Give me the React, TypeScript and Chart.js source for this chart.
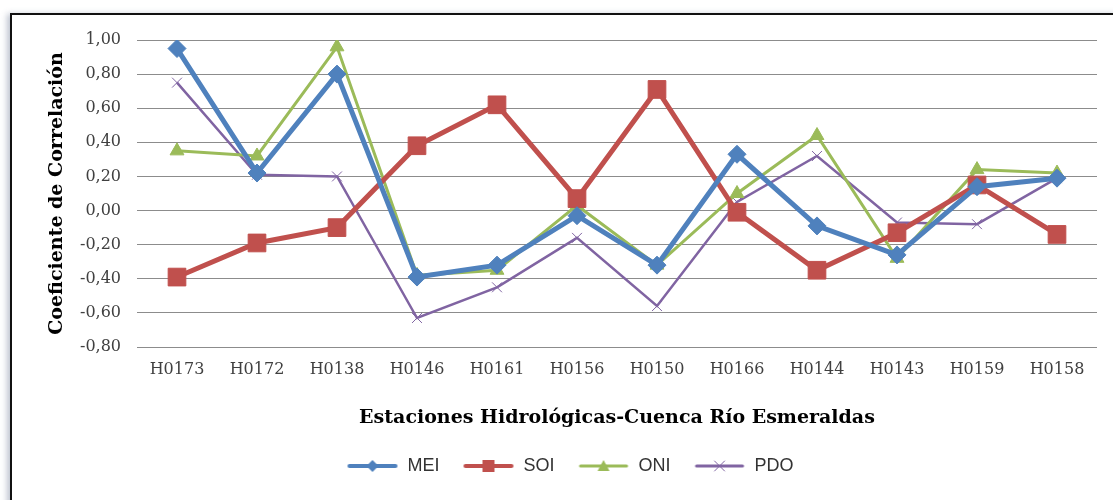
import React, { useEffect, useRef } from "react";
import { Chart, registerables } from "chart.js";

Chart.register(...registerables);

const categories = ["H0173", "H0172", "H0138", "H0146", "H0161", "H0156", "H0150", "H0166", "H0144", "H0143", "H0159", "H0158"];
const meiValues = [0.95, 0.22, 0.8, -0.39, -0.32, -0.03, -0.32, 0.33, -0.09, -0.26, 0.14, 0.19];
const soiValues = [-0.39, -0.19, -0.1, 0.38, 0.62, 0.07, 0.71, -0.01, -0.35, -0.13, 0.15, -0.14];
const oniValues = [0.35, 0.32, 0.96, -0.38, -0.35, 0.03, -0.32, 0.1, 0.44, -0.28, 0.24, 0.22];
const pdoValues = [0.75, 0.21, 0.2, -0.63, -0.45, -0.16, -0.56, 0.05, 0.32, -0.07, -0.08, 0.19];
const seriesNames = ["MEI", "SOI", "ONI", "PDO"];
const yMin = -0.8;
const yMax = 1.0;
const yStep = 0.2;
const xTitle = "Estaciones Hidrológicas-Cuenca Río Esmeraldas";
const yTitle = "Coeficiente de Correlación";

const COLORS = ["#4F81BD", "#C0504D", "#9BBB59", "#8064A2"];

function makeIcon(color: string, lineWidth: number, marker: string): HTMLCanvasElement {
  const c = document.createElement("canvas");
  c.width = 52;
  c.height = 20;
  const ctx = c.getContext("2d")!;
  ctx.strokeStyle = color;
  ctx.fillStyle = color;
  ctx.lineWidth = lineWidth;
  ctx.lineCap = "round";
  ctx.beginPath();
  ctx.moveTo(3, 10);
  ctx.lineTo(49, 10);
  ctx.stroke();
  const cx = 26, cy = 10;
  ctx.beginPath();
  if (marker === "diamond") {
    ctx.moveTo(cx, cy - 6);
    ctx.lineTo(cx + 6, cy);
    ctx.lineTo(cx, cy + 6);
    ctx.lineTo(cx - 6, cy);
    ctx.closePath();
    ctx.fill();
  } else if (marker === "square") {
    ctx.rect(cx - 6, cy - 6, 12, 12);
    ctx.fill();
  } else if (marker === "triangle") {
    ctx.moveTo(cx, cy - 6);
    ctx.lineTo(cx + 6, cy + 5);
    ctx.lineTo(cx - 6, cy + 5);
    ctx.closePath();
    ctx.fill();
  } else {
    ctx.lineWidth = 1;
    ctx.moveTo(cx - 5, cy - 5);
    ctx.lineTo(cx + 5, cy + 5);
    ctx.moveTo(cx + 5, cy - 5);
    ctx.lineTo(cx - 5, cy + 5);
    ctx.stroke();
  }
  return c;
}

function fmt(v: number): string {
  const n = Math.abs(v) < 1e-9 ? 0 : v;
  return n.toFixed(2).replace(".", ",");
}

export default function App() {
  const ref = useRef<HTMLCanvasElement | null>(null);

  useEffect(() => {
    if (!ref.current) return;
    const icons = [
      makeIcon(COLORS[0], 4, "diamond"),
      makeIcon(COLORS[1], 4, "square"),
      makeIcon(COLORS[2], 3, "triangle"),
      makeIcon(COLORS[3], 3, "cross"),
    ];
    const serif = "'DejaVu Serif', serif";
    const chart = new Chart(ref.current, {
      type: "line",
      data: {
        labels: categories,
        datasets: [
          {
            label: seriesNames[0],
            data: meiValues,
            borderColor: COLORS[0],
            backgroundColor: COLORS[0],
            borderWidth: 5,
            pointStyle: "rectRot",
            pointRadius: 9,
            pointBorderWidth: 1,
            pointBackgroundColor: COLORS[0],
            pointBorderColor: COLORS[0],
            tension: 0,
          },
          {
            label: seriesNames[1],
            data: soiValues,
            borderColor: COLORS[1],
            backgroundColor: COLORS[1],
            borderWidth: 5,
            pointStyle: "rect",
            pointRadius: 12.5,
            pointBorderWidth: 1,
            pointBackgroundColor: COLORS[1],
            pointBorderColor: COLORS[1],
            tension: 0,
          },
          {
            label: seriesNames[2],
            data: oniValues,
            borderColor: COLORS[2],
            backgroundColor: COLORS[2],
            borderWidth: 3,
            pointStyle: "triangle",
            pointRadius: 8,
            pointBorderWidth: 1,
            pointBackgroundColor: COLORS[2],
            pointBorderColor: COLORS[2],
            tension: 0,
          },
          {
            label: seriesNames[3],
            data: pdoValues,
            borderColor: COLORS[3],
            backgroundColor: COLORS[3],
            borderWidth: 2.5,
            pointStyle: "crossRot",
            pointRadius: 7,
            pointBorderWidth: 1,
            pointBackgroundColor: COLORS[3],
            pointBorderColor: COLORS[3],
            tension: 0,
          },
        ],
      },
      options: {
        responsive: false,
        animation: false,
        layout: { padding: { left: 43, right: 16, top: 40, bottom: 15 } },
        scales: {
          x: {
            type: "category",
            offset: true,
            grid: { display: false, drawTicks: false },
            border: { display: false },
            ticks: {
              padding: 13,
              autoSkip: false,
              maxRotation: 0,
              color: "#404040",
              font: { family: serif, size: 16 },
            },
            title: {
              display: true,
              text: xTitle,
              color: "#000",
              font: { family: serif, size: 19, weight: "bold" },
              padding: { top: 0, bottom: 5 },
            },
            afterFit: (s: any) => {
              s.height = 87;
            },
          },
          y: {
            min: yMin,
            max: yMax,
            grid: { color: "#8c8c8c", lineWidth: 1, drawTicks: false },
            border: { display: false },
            ticks: {
              stepSize: yStep,
              padding: 16,
              color: "#404040",
              font: { family: serif, size: 16 },
              callback: (v: any) => fmt(Number(v)),
            },
            title: {
              display: true,
              text: yTitle,
              color: "#000",
              font: { family: serif, size: 19, weight: "bold" },
              padding: { top: 3, bottom: 0 },
            },
            afterFit: (s: any) => {
              s.width = 94;
            },
          },
        },
        plugins: {
          tooltip: { enabled: false },
          legend: {
            display: true,
            position: "bottom",
            labels: {
              usePointStyle: true,
              pointStyleWidth: 52,
              padding: 23,
              color: "#333",
              font: { family: "'Liberation Sans', Arial, sans-serif", size: 18 },
              generateLabels: (ch: any) => {
                const base = Chart.defaults.plugins.legend.labels.generateLabels(ch);
                return base.map((it: any, i: number) => ({ ...it, pointStyle: icons[i] }));
              },
            },
          },
        },
      },
    } as any);
    return () => chart.destroy();
  }, []);

  return (
    <div style={{ position: "absolute", left: 0, top: 0, width: 1113, height: 500, overflow: "hidden", background: "#fff" }}>
      <canvas ref={ref} width={1113} height={500} style={{ position: "absolute", left: 0, top: 0 }} />
      <div
        style={{
          position: "absolute",
          left: 10,
          top: 13,
          width: 1300,
          height: 700,
          borderLeft: "2px solid #111",
          borderTop: "2px solid #111",
          boxShadow: "-3px 1px 6px rgba(110,125,150,0.45)",
          pointerEvents: "none",
        }}
      />
    </div>
  );
}
